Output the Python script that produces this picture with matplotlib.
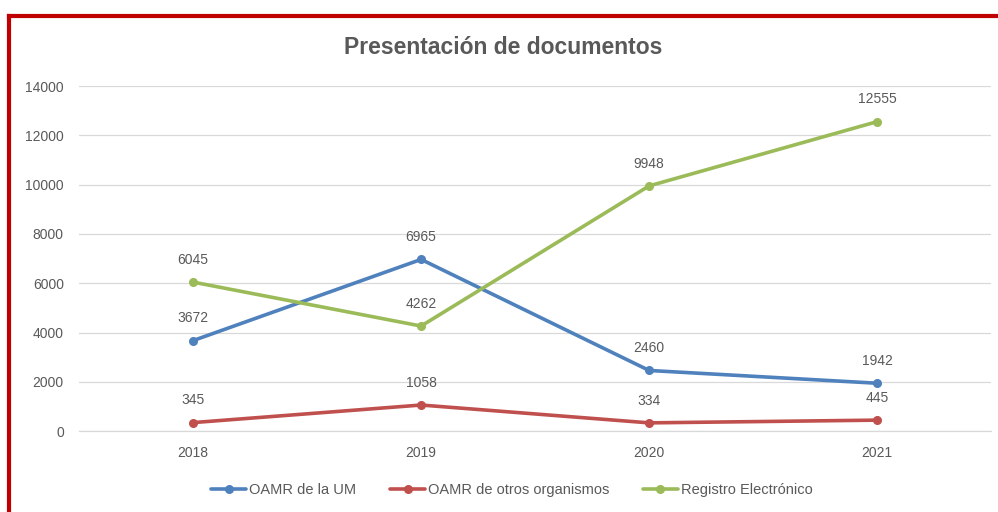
import matplotlib.pyplot as plt
from matplotlib.lines import Line2D

## data
years = ['2018', '2019', '2020', '2021']
oamr_um = [3672, 6965, 2460, 1942]
oamr_otros = [345, 1058, 334, 445]
registro = [6045, 4262, 9948, 12555]
series_names = ['OAMR de la UM', 'OAMR de otros organismos', 'Registro Electrónico']

colors = ['#4F81BD', '#C0504D', '#9BBB59']
gray = '#595959'

plt.rcParams['font.family'] = ['Liberation Sans', 'DejaVu Sans']

fig = plt.figure(figsize=(9.98, 5.12), dpi=100)
ax = fig.add_axes([0.0792, 0.158, 0.914, 0.674])

x = range(len(years))
for vals, name, c in zip([oamr_um, oamr_otros, registro], series_names, colors):
    ax.plot(x, vals, color=c, lw=2.6, marker='o', ms=5.5, label=name,
            solid_capstyle='round', zorder=3)
    for xi, v in zip(x, vals):
        ax.annotate(str(v), (xi, v), xytext=(0, 11), textcoords='offset points',
                    ha='center', va='bottom', fontsize=10, color=gray)

ax.set_xlim(-0.5, 3.5)
ax.set_ylim(0, 14000)
ax.set_yticks(range(0, 14001, 2000))
ax.set_xticks(list(x))
ax.set_xticklabels(years)
ax.grid(axis='y', color='#D9D9D9', lw=0.9)
ax.axhline(0, color='#D9D9D9', lw=0.9, clip_on=False, zorder=1)
ax.set_axisbelow(True)
for s in ax.spines.values():
    s.set_visible(False)
ax.tick_params(length=0, colors=gray, labelsize=10)
ax.tick_params(axis='y', pad=11)
ax.tick_params(axis='x', pad=11)

fig.text(0.504, 0.908, 'Presentación de documentos', ha='center', va='center',
         fontsize=16.5, fontweight='bold', color=gray)

fig.legend(loc='center', bbox_to_anchor=(0.513, 0.043), ncol=3, frameon=False,
           fontsize=10.5, labelcolor=gray, handlelength=2.4, handletextpad=0.2,
           columnspacing=2.3)

## red frame around the chart (top and left edges visible)
ytop = 1 - 15.5 / 512
xleft = 8.5 / 998
fig.add_artist(Line2D([xleft, 1], [ytop, ytop], color='#C00000', lw=3, transform=fig.transFigure))
fig.add_artist(Line2D([xleft, xleft], [0, ytop], color='#C00000', lw=3, transform=fig.transFigure))

fig.savefig('out.png', dpi=100)
